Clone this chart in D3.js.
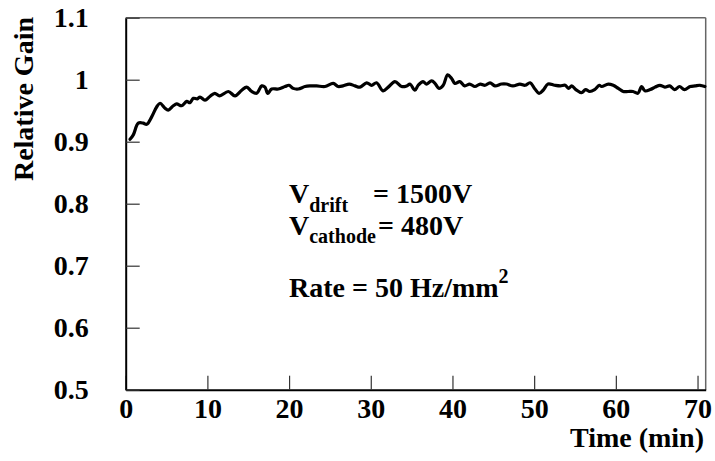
<!DOCTYPE html>
<html><head><meta charset="utf-8">
<script src="https://cdn.jsdelivr.net/npm/d3@7"></script>
<style>body{margin:0;background:#fff}svg{display:block}text{font-family:"Liberation Serif","Times New Roman",serif;font-weight:bold;fill:#000}</style>
</head><body>
<script>
const timeMin = [0.53,0.93,1.54,2.15,2.57,3.18,3.79,4.2,4.81,5.2,5.83,6.24,6.85,7.47,7.87,8.28,8.76,9.1,9.7,10.3,10.9,11.5,12.56,13.38,14.2,14.81,15.42,16.03,16.65,17.05,17.38,17.87,18.68,19.5,19.99,20.5,21.13,21.95,22.56,23.37,24.4,25.4,26.0,26.6,27.37,28.07,28.68,29.5,30.1,30.7,31.5,32.14,32.96,33.78,34.4,34.8,35.4,35.8,36.4,36.8,37.45,37.86,38.35,38.87,39.41,39.9,40.3,40.9,41.5,42.1,42.75,43.4,44.0,44.6,45.2,46.0,46.6,47.4,48.26,48.9,49.5,50.1,50.6,51.1,51.7,52.5,53.2,53.8,54.2,54.6,55.1,55.8,56.3,56.8,57.4,57.97,58.26,59.07,59.68,60.3,60.9,61.5,62.1,62.7,63.16,63.56,64.2,64.8,65.4,66.0,66.6,67.2,67.8,68.4,69.1,69.7,70.3,70.9];
const relGain = [0.904,0.911,0.930,0.930,0.928,0.940,0.956,0.962,0.954,0.951,0.958,0.961,0.958,0.965,0.963,0.970,0.969,0.972,0.967,0.973,0.978,0.974,0.981,0.974,0.983,0.988,0.981,0.978,0.990,0.988,0.978,0.985,0.985,0.989,0.991,0.986,0.985,0.989,0.990,0.990,0.989,0.994,0.989,0.990,0.993,0.990,0.988,0.995,0.991,0.995,0.982,0.988,0.997,0.989,0.990,0.993,0.983,0.991,0.997,0.993,0.998,0.994,0.986,0.991,1.008,1.002,0.994,0.997,0.990,0.993,0.989,0.993,0.991,0.995,0.990,0.993,0.993,0.990,0.993,0.991,0.995,0.985,0.978,0.983,0.993,0.991,0.990,0.991,0.986,0.990,0.984,0.979,0.984,0.981,0.984,0.991,0.989,0.993,0.991,0.986,0.981,0.981,0.981,0.978,0.989,0.982,0.984,0.988,0.991,0.988,0.990,0.984,0.989,0.984,0.989,0.990,0.991,0.989];
const xTicks = [0,10,20,30,40,50,60,70];
const yTicks = [0.5,0.6,0.7,0.8,0.9,1.0,1.1];
const yTickLabels = ["0.5","0.6","0.7","0.8","0.9","1","1.1"];

const W=715,H=461;
const m={left:125.7,right:705.7,top:17.7,bottom:389.7};
const FS=28, SFS=20;
const svg=d3.select("body").append("svg").attr("width",W).attr("height",H);
const x=d3.scaleLinear().domain([0,71]).range([m.left,m.right]);
const y=d3.scaleLinear().domain([0.5,1.1]).range([m.bottom,m.top]);

svg.append("line").attr("x1",m.left).attr("x2",m.right).attr("y1",m.top).attr("y2",m.top).attr("stroke","#666").attr("stroke-width",1.5);
svg.append("line").attr("x1",m.right).attr("x2",m.right).attr("y1",m.top).attr("y2",m.bottom).attr("stroke","#666").attr("stroke-width",1.5);

const xAxis=svg.append("g").attr("transform",`translate(0,${m.bottom})`)
  .call(d3.axisBottom(x).tickValues(xTicks).tickSizeInner(-14).tickSizeOuter(0).tickPadding(0).tickFormat(d3.format("d")));
xAxis.select(".domain").attr("stroke","#000").attr("stroke-width",2);
xAxis.selectAll(".tick line").attr("stroke","#333").attr("stroke-width",1.2);
xAxis.selectAll(".tick text").attr("font-size",FS).attr("y",28).attr("dy",0).attr("font-family",null);

const yAxis=svg.append("g").attr("transform",`translate(${m.left},0)`)
  .call(d3.axisLeft(y).tickValues(yTicks).tickSizeInner(-14).tickSizeOuter(0).tickPadding(0).tickFormat((d,i)=>yTickLabels[i]));
yAxis.select(".domain").attr("stroke","#000").attr("stroke-width",2);
yAxis.selectAll(".tick line").attr("stroke","#333").attr("stroke-width",1.2);
yAxis.selectAll(".tick text").attr("font-size",FS).attr("x",-37).attr("dy","0.33em").attr("font-family",null);

const line=d3.line().x((d,i)=>x(timeMin[i])).y(d=>y(d)).curve(d3.curveCatmullRom);
svg.append("path").datum(relGain).attr("d",line).attr("fill","none").attr("stroke","#000").attr("stroke-width",3.2).attr("stroke-linejoin","round").attr("stroke-linecap","round");

svg.append("text").attr("x",704).attr("y",447).attr("text-anchor","end").attr("font-size",FS).text("Time (min)");
svg.append("text").attr("transform","translate(33,17) rotate(-90)").attr("text-anchor","end").attr("font-size",FS).text("Relative Gain");

const t1=svg.append("text").attr("x",289).attr("y",203).attr("font-size",FS);
t1.append("tspan").text("V");
t1.append("tspan").attr("font-size",SFS).attr("dy",9).text("drift");
svg.append("text").attr("x",373).attr("y",203).attr("font-size",FS).text("= 1500V");
const t2=svg.append("text").attr("x",289).attr("y",235).attr("font-size",FS);
t2.append("tspan").text("V");
t2.append("tspan").attr("font-size",SFS).attr("dy",8).text("cathode");
svg.append("text").attr("x",378).attr("y",235).attr("font-size",FS).text("= 480V");
const t3=svg.append("text").attr("x",289).attr("y",297).attr("font-size",FS);
t3.append("tspan").text("Rate = 50 Hz/mm");
t3.append("tspan").attr("font-size",SFS).attr("dy",-14).text("2");
</script>
</body></html>
